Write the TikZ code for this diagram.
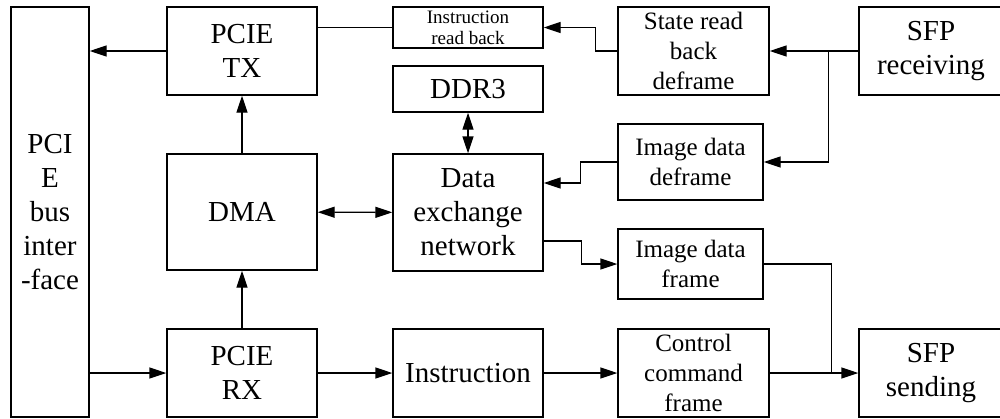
\documentclass[tikz,border=0pt]{standalone}
\usepackage{fontspec}
\setmainfont{Liberation Serif}
\usepackage{tikz}
\usetikzlibrary{calc,arrows.meta}
\newcommand{\fntbig}{\fontsize{14.5}{17}\selectfont}
\newcommand{\fntmid}{\fontsize{12.5}{15}\selectfont}
\newcommand{\fntsml}{\fontsize{9.5}{10.5}\selectfont}

\begin{document}
\begin{tikzpicture}[x=0.5pt, y=-0.5pt, >={Triangle[length=8.5pt,width=5.5pt]}, line width=0.7pt,
    blk/.style={draw, rectangle, inner sep=0pt, align=center, font=\fntbig},
    sz/.style 2 args={minimum width=#1*0.5pt, minimum height=#2*0.5pt}]
    \useasboundingbox (0,0) rectangle (1000,418);
    % PCIE side
    \node[blk, sz={78}{410}] (bus) at (50,212) {PCI\\E\\bus\\inter\\-face};
    \node[blk, sz={150}{88}] (tx) at (242,51) {PCIE\\TX};
    \node[blk, sz={150}{116}] (dma) at (242,212) {DMA};
    \node[blk, sz={150}{88}] (rx) at (242,373) {PCIE\\RX};
    % middle column
    \node[blk, sz={150}{41}, font=\fntsml] (irb) at (468,27.5) {Instruction\\read back};
    \node[blk, sz={150}{46}] (ddr) at (468,89) {DDR3};
    \node[blk, sz={150}{117}] (dex) at (468,212.5) {Data\\exchange\\network};
    \node[blk, sz={150}{88}] (ins) at (468,373) {Instruction};
    % framing column
    \node[blk, sz={151}{88}, font=\fntmid] (srd) at (693.5,51) {State read\\back\\deframe};
    \node[blk, sz={145}{76}, font=\fntmid] (idd) at (690.5,162) {Image data\\deframe};
    \node[blk, sz={145}{70}, font=\fntmid] (idf) at (690.5,264) {Image data\\frame};
    \node[blk, sz={151}{88}, font=\fntmid] (ccf) at (693.5,373) {Control\\command\\frame};
    % SFP
    \node[blk, sz={144}{88}] (sfr) at (931,51) {SFP\\receiving};
    \node[blk, sz={144}{88}] (sfs) at (931,373) {SFP\\sending};
    \coordinate (rxsplit) at ($(sfr.west)+(-30,0)$);
    \coordinate (txmerge) at ($(sfs.west)+(-27,0)$);

    \draw[->] (tx) -- (tx -| bus.east);
    \draw[->] (rx -| bus.east) -- (rx);
    \draw[->] (dma) -- (tx);
    \draw[->] (rx) -- (dma);
    \draw[<->] (dma) -- (dex);
    \draw[<->] (ddr) -- (dex);
    \draw (tx.east |- irb) -- (irb);
    \draw[->] (srd.west) -- ++(-22,0) |- (irb.east);
    \draw[->] (sfr) -- (srd);
    \draw[->] (rxsplit) |- (idd.east);
    \draw[->] (idd.west) -- ++(-37,0) |- ($(dex.east)+(0,-29.5)$);
    \draw[->] ($(dex.east)+(0,28.5)$) -- ++(38,0) |- (idf.west);
    \draw (idf.east) -| (txmerge);
    \draw[->] (rx) -- (ins);
    \draw[->] (ins) -- (ccf);
    \draw[->] (ccf) -- (sfs);
\end{tikzpicture}
\end{document}
